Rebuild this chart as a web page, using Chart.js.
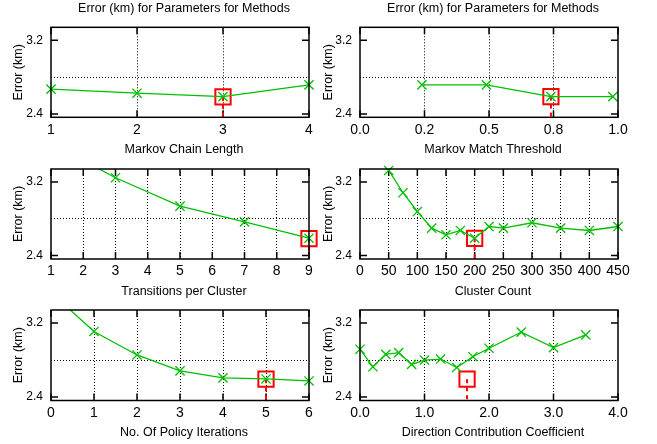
<!DOCTYPE html>
<html>
<head>
<meta charset="utf-8">
<script src="https://cdn.jsdelivr.net/npm/chart.js@4.4.1/dist/chart.umd.min.js"></script>
<style>
html, body { margin: 0; padding: 0; background: #fff; }
#wrap { position: relative; width: 657px; height: 444px; overflow: hidden; }
#wrap canvas { position: absolute; left: 0; top: 0; }
</style>
</head>
<body>
<div id="wrap">
<canvas id="c1" width="657" height="444"></canvas>
<canvas id="c2" width="657" height="444"></canvas>
<canvas id="c3" width="657" height="444"></canvas>
<canvas id="c4" width="657" height="444"></canvas>
<canvas id="c5" width="657" height="444"></canvas>
<canvas id="c6" width="657" height="444"></canvas>
</div>
<script>
// ---------- data ----------
const topTitle = 'Error (km) for Parameters for Methods';
const yAxisTitle = 'Error (km)';
const yTickValues = [2.4, 2.8, 3.2];
const yTickLabels = ['2.4', '', '3.2'];
const yMin = 2.363;
const yMax = 3.341;

const chainLength = [1, 2, 3, 4];
const chainLengthError = [2.669, 2.625, 2.588, 2.715];
const chainLengthTicks = [1, 2, 3, 4];
const chainLengthTickLabels = ['1', '2', '3', '4'];

const matchThreshold = [0.24, 0.49, 0.74, 0.98];
const matchThresholdError = [2.715, 2.715, 2.588, 2.588];
const matchThresholdTicks = [0, 0.25, 0.5, 0.75, 1.0];
const matchThresholdTickLabels = ['0.0', '0.2', '0.5', '0.8', '1.0'];

const transitions = [1, 3, 5, 7, 9];
const transitionsError = [3.62, 3.246, 2.937, 2.767, 2.589];
const transitionsTicks = [1, 2, 3, 4, 5, 6, 7, 8, 9];
const transitionsTickLabels = ['1', '2', '3', '4', '5', '6', '7', '8', '9'];

const clusterCount = [50, 75, 100, 125, 150, 175, 200, 225, 250, 300, 350, 400, 450];
const clusterCountError = [3.325, 3.083, 2.879, 2.698, 2.626, 2.673, 2.589, 2.716, 2.698, 2.757, 2.698, 2.673, 2.716];
const clusterCountTicks = [0, 50, 100, 150, 200, 250, 300, 350, 400, 450];
const clusterCountTickLabels = ['0', '50', '100', '150', '200', '250', '300', '350', '400', '450'];

const policyIterations = [0, 1, 2, 3, 4, 5, 6];
const policyIterationsError = [3.53, 3.109, 2.855, 2.683, 2.607, 2.596, 2.574];
const policyIterationsTicks = [0, 1, 2, 3, 4, 5, 6];
const policyIterationsTickLabels = ['0', '1', '2', '3', '4', '5', '6'];

const directionCoeff = [0, 0.2, 0.4, 0.6, 0.8, 1.0, 1.25, 1.5, 1.75, 2.0, 2.5, 3.0, 3.5];
const directionCoeffError = [2.917, 2.727, 2.862, 2.880, 2.753, 2.800, 2.811, 2.720, 2.836, 2.928, 3.102, 2.934, 3.072];
const directionCoeffTicks = [0, 1, 2, 3, 4];
const directionCoeffTickLabels = ['0.0', '1.0', '2.0', '3.0', '4.0'];

// selected parameter (red box) per panel
const bestX = [3, 0.74, 9, 200, 5, 1.66];
const bestError = [2.585, 2.588, 2.585, 2.588, 2.593, 2.593];

const xTitles = ['Markov Chain Length', 'Markov Match Threshold', 'Transitions per Cluster',
                 'Cluster Count', 'No. Of Policy Iterations', 'Direction Contribution Coefficient'];

// ---------- layout / style ----------
const GREEN = '#00c000';
const RED = '#ff0000';
const FONT = '"Liberation Sans", Arial, Helvetica, sans-serif';
const W = 657, H = 444;

const colLayout = [
  { L: 51, R: 309, yw: 40.2 },
  { L: 360, R: 618, yw: 38.5 }
];
const rowLayout = [
  { T: 27.3, B: 117.3 },
  { T: 169, B: 259 },
  { T: 310, B: 400.5 }
];

const panels = [
  { id: 'c1', x: chainLength, y: chainLengthError, ticks: chainLengthTicks, labels: chainLengthTickLabels, clipTop: 0 },
  { id: 'c2', x: matchThreshold, y: matchThresholdError, ticks: matchThresholdTicks, labels: matchThresholdTickLabels, clipTop: 0 },
  { id: 'c3', x: transitions, y: transitionsError, ticks: transitionsTicks, labels: transitionsTickLabels, clipTop: 0 },
  { id: 'c4', x: clusterCount, y: clusterCountError, ticks: clusterCountTicks, labels: clusterCountTickLabels, clipTop: 5 },
  { id: 'c5', x: policyIterations, y: policyIterationsError, ticks: policyIterationsTicks, labels: policyIterationsTickLabels, clipTop: 0 },
  { id: 'c6', x: directionCoeff, y: directionCoeffError, ticks: directionCoeffTicks, labels: directionCoeffTickLabels, clipTop: 0 }
];

const tickPlugin = {
  id: 'inTicks',
  beforeDatasetsDraw(chart) {
    const { ctx, chartArea: a, scales: { x, y } } = chart;
    ctx.save();
    ctx.strokeStyle = '#000';
    ctx.lineWidth = 1.5;
    ctx.setLineDash([]);
    ctx.beginPath();
    x.ticks.forEach(t => {
      const px = x.getPixelForValue(t.value);
      ctx.moveTo(px, a.bottom); ctx.lineTo(px, a.bottom - 7);
      ctx.moveTo(px, a.top); ctx.lineTo(px, a.top + 7);
    });
    y.ticks.forEach((t, i) => {
      if (!yTickLabels[i]) return;
      const py = y.getPixelForValue(t.value);
      ctx.moveTo(a.left, py); ctx.lineTo(a.left + 7, py);
      ctx.moveTo(a.right, py); ctx.lineTo(a.right - 7, py);
    });
    ctx.stroke();
    ctx.restore();
  },
  afterDatasetsDraw(chart, args, opts) {
    const { ctx, chartArea: a } = chart;
    ctx.save();
    ctx.strokeStyle = '#000';
    ctx.lineWidth = 1.5;
    ctx.setLineDash([]);
    ctx.strokeRect(a.left, a.top, a.right - a.left, a.bottom - a.top);
    ctx.fillStyle = '#000';
    ctx.font = '12.5px ' + FONT;
    ctx.textAlign = 'center';
    ctx.textBaseline = 'middle';
    const cx = (a.left + a.right) / 2 + 4;
    ctx.fillText(opts.xTitle, cx, a.bottom + 32.5);
    if (opts.topTitle) ctx.fillText(opts.topTitle, cx, a.top - 18.5);
    ctx.restore();
  }
};

panels.forEach((p, k) => {
  const col = colLayout[k % 2];
  const row = rowLayout[Math.floor(k / 2)];
  const xh = 20;
  const xMin = p.ticks[0], xMax = p.ticks[p.ticks.length - 1];
  new Chart(document.getElementById(p.id), {
    type: 'line',
    data: {
      datasets: [
        {
          data: p.x.map((v, i) => ({ x: v, y: p.y[i] })),
          borderColor: GREEN, borderWidth: 1.3, tension: 0, fill: false,
          pointStyle: 'crossRot', pointRadius: 6.5, pointBorderWidth: 1.3,
          pointBorderColor: GREEN, pointBackgroundColor: GREEN,
          clip: { left: 8, right: 8, top: p.clipTop, bottom: 8 },
          order: 1
        },
        {
          type: 'scatter',
          data: [{ x: bestX[k], y: bestError[k] }],
          pointStyle: 'rect', pointRadius: 10.8, pointBorderWidth: 2,
          pointBorderColor: RED, pointBackgroundColor: 'rgba(0,0,0,0)',
          clip: 20, order: 2
        },
        {
          data: [{ x: bestX[k], y: bestError[k] }, { x: bestX[k], y: yMin }],
          borderColor: RED, borderWidth: 2, borderDash: [4, 4], pointRadius: 0,
          fill: false, clip: 2, order: 3
        }
      ]
    },
    options: {
      responsive: false,
      animation: false,
      devicePixelRatio: 1,
      events: [],
      layout: { padding: { left: col.L - col.yw, top: row.T, right: W - col.R, bottom: H - row.B - xh } },
      plugins: {
        legend: { display: false },
        tooltip: { enabled: false },
        inTicks: { xTitle: xTitles[k], topTitle: k < 2 ? topTitle : '' }
      },
      scales: {
        x: {
          type: 'linear', min: xMin, max: xMax,
          afterBuildTicks: s => { s.ticks = p.ticks.map(v => ({ value: v })); },
          afterFit: s => { s.height = xh; },
          ticks: {
            autoSkip: false, maxRotation: 0, padding: 4, color: '#000',
            font: { family: FONT, size: 14 },
            callback: (v, i) => p.labels[i]
          },
          grid: {
            drawTicks: false, lineWidth: 1,
            color: c => (c.index === 0 || c.index === p.ticks.length - 1) ? 'rgba(0,0,0,0)' : '#000'
          },
          border: { display: false, dash: [1, 2] }
        },
        y: {
          min: yMin, max: yMax,
          afterBuildTicks: s => { s.ticks = yTickValues.map(v => ({ value: v })); },
          afterFit: s => { s.width = col.yw; },
          ticks: {
            autoSkip: false, padding: 8, color: '#000',
            font: { family: FONT, size: 12 },
            callback: (v, i) => yTickLabels[i]
          },
          grid: {
            drawTicks: false, lineWidth: 1,
            color: c => yTickLabels[c.index] === '' ? '#000' : 'rgba(0,0,0,0)'
          },
          border: { display: false, dash: [1, 2] },
          title: { display: true, text: yAxisTitle, color: '#000', padding: 0, font: { family: FONT, size: 12.5 } }
        }
      }
    },
    plugins: [tickPlugin]
  });
});
</script>
</body>
</html>
